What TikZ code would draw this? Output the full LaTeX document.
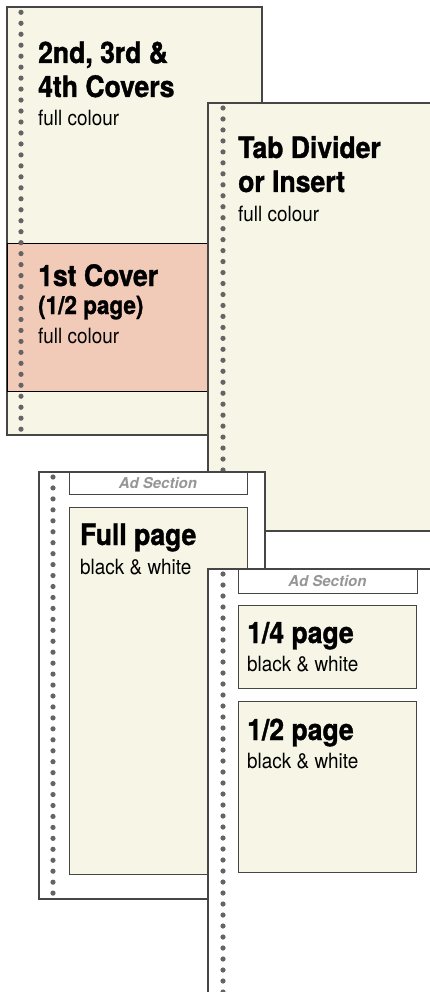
\documentclass[tikz,border=0pt]{standalone}
\usepackage{fontspec}
\setmainfont{TeX Gyre Heros}
\newfontfamily\condfont[FakeStretch=0.9, BoldFeatures={FakeBold=1.2}]{TeX Gyre Heros}
\usetikzlibrary{positioning,calc}

\definecolor{cream}{RGB}{247,245,230}
\definecolor{coverpink}{RGB}{242,202,184}
\definecolor{dotgray}{RGB}{100,100,100}
\definecolor{pageline}{RGB}{70,70,70}
\definecolor{adgray}{RGB}{150,150,150}

\tikzset{
  sheet/.style={draw=pageline, line width=1.3pt},
  panel/.style={draw=pageline, line width=1pt},
  holedot/.style={fill=dotgray, draw=none},
  title/.style={font=\condfont\bfseries\fontsize{29.5}{34}\selectfont, anchor=base west, inner sep=0pt},
  halftitle/.style={font=\condfont\bfseries\fontsize{25}{28}\selectfont, anchor=base west, inner sep=0pt},
  subtitle/.style={font=\condfont\fontsize{21}{24}\selectfont, anchor=base west, inner sep=0pt},
  adlabel/.style={font=\bfseries\itshape\fontsize{15}{17}\selectfont, text=adgray, inner sep=0pt}
}

\begin{document}
\begin{tikzpicture}[x=1pt, y=-1pt]
            \useasboundingbox[fill=white] (0,0) rectangle (430,992);
            % covers sheet
            \coordinate (C1) at (7,7);
            \coordinate (C2) at (262,435);
            \filldraw[sheet, fill=cream] (C1) rectangle (C2);
            \filldraw[fill=coverpink, draw=black, line width=0.8pt] (7,243) rectangle (262,391);
            \foreach \k in {0,...,38}
                \fill[holedot] (21,{12.3+10.97*\k}) circle (2.6);
            \node[title] (covers1) at (38,63) {2nd, 3rd \&};
            \node[title] (covers2) at (38,97) {4th Covers};
            \node[subtitle] (coverscol) at (38,126) {full colour};
            \node[title] (first1) at (38,286) {1st Cover};
            \node[halftitle] (first2) at (38,314) {(1/2 page)};
            \node[subtitle] (firstcol) at (38,343) {full colour};
            % tab divider sheet
            \coordinate (T1) at (208,103);
            \coordinate (T2) at (445,531);
            \filldraw[sheet, fill=cream] (T1) rectangle (T2);
            \foreach \k in {0,...,38}
                \fill[holedot] (223,{108+10.97*\k}) circle (2.6);
            \node[title] (tab1) at (238,158) {Tab Divider};
            \node[title] (tab2) at (238,192) {or Insert};
            \node[subtitle] (tabcol) at (238,222) {full colour};
            % full page ad sheet
            \coordinate (F1) at (39,472);
            \coordinate (F2) at (265,899);
            \filldraw[sheet, fill=white] (F1) rectangle (F2);
            \foreach \k in {0,...,38}
                \fill[holedot] (53,{477+10.95*\k}) circle (2.6);
            \draw[panel, fill=white] (69,472) rectangle (247,494);
            \node[adlabel] (adsec1) at (158,483) {Ad Section};
            \filldraw[panel, fill=cream] (69,507) rectangle (247,874);
            \node[title] (full1) at (80,545) {Full page};
            \node[subtitle] (full2) at (80,574) {black \& white};
            % quarter and half page ad sheet
            \coordinate (Q1) at (208,569);
            \coordinate (Q2) at (445,1000);
            \filldraw[sheet, fill=white] (Q1) rectangle (Q2);
            \foreach \k in {0,...,38}
                \fill[holedot] (223,{574+11*\k}) circle (2.6);
            \draw[panel, fill=white] (238,569) rectangle (417,593);
            \node[adlabel] (adsec2) at (327.5,581) {Ad Section};
            \filldraw[panel, fill=cream] (238,605) rectangle (416,688);
            \node[title] (quart1) at (247,643) {1/4 page};
            \node[subtitle] (quart2) at (247,671) {black \& white};
            \filldraw[panel, fill=cream] (238,701) rectangle (416,872);
            \node[title] (half1) at (247,740) {1/2 page};
            \node[subtitle] (half2) at (247,768) {black \& white};
        \end{tikzpicture}
\end{document}
